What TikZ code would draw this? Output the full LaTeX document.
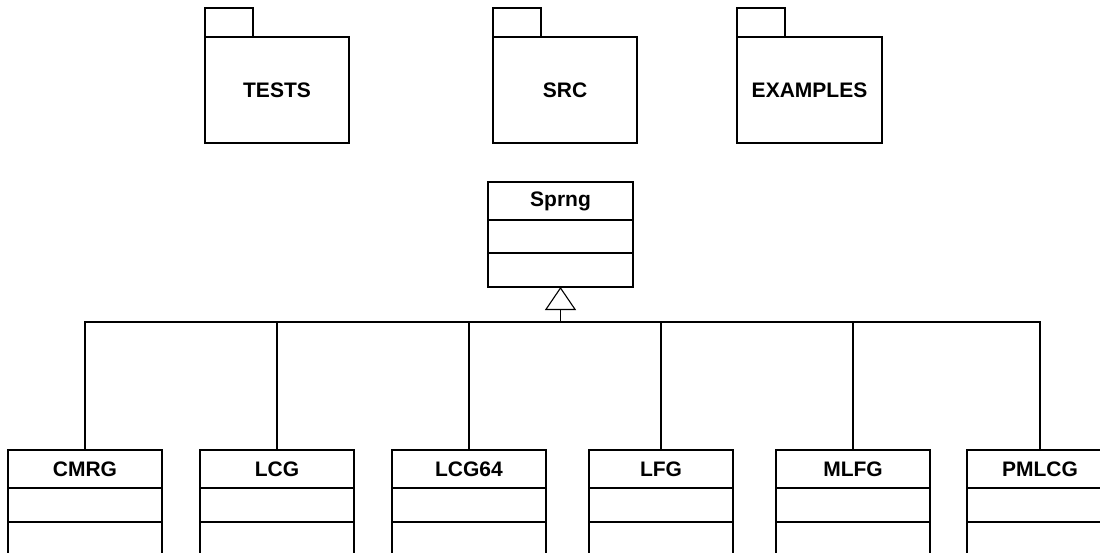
\documentclass[tikz,border=0pt]{standalone}
\usepackage{fontspec}
\setmainfont{Liberation Sans}
\usetikzlibrary{positioning,arrows.meta}
\tikzset{
  wire/.style={line width=1.1pt},
  umlfont/.style={font=\fontsize{21}{25}\selectfont\bfseries},
  pkg/.style={draw, line width=1.6pt, umlfont, minimum width=144, minimum height=106, inner sep=0pt, outer sep=0pt},
  pkgtab/.style={draw, line width=1.6pt, minimum width=48, minimum height=29, inner sep=0pt, outer sep=0pt},
  classhead/.style={draw, line width=1.6pt, fill=white, umlfont, minimum width=154, minimum height=38, inner sep=0pt, outer sep=0pt},
  classpart/.style={draw, line width=1.6pt, fill=white, minimum width=154, minimum height=34, inner sep=0pt, outer sep=0pt},
  inherit/.style={wire, -{Triangle[open, length=23pt, width=31pt]}}
}
\begin{document}
\begin{tikzpicture}[x=1pt,y=-1pt]
  \useasboundingbox (0,0) rectangle (1100,552);
  \clip (0,0) rectangle (1100,552);
  % packages
  \node[pkg] (tests) at (277,90) {TESTS};
  \node[pkgtab, anchor=south west] (teststab) at (tests.north west) {};
  \node[pkg] (src) at (565,90) {SRC};
  \node[pkgtab, anchor=south west] (srctab) at (src.north west) {};
  \node[pkg, minimum width=145] (examples) at (809.5,90) {EXAMPLES};
  \node[pkgtab, anchor=south west] (examplestab) at (examples.north west) {};
  % base class
  \node[classhead, minimum width=145] (sprng) at (560.5,201) {Sprng};
  \node[classpart, minimum width=145, minimum height=33, below=0pt of sprng] (sprngattr) {};
  \node[classpart, minimum width=145, below=0pt of sprngattr] (sprngop) {};
  % generators
  \node[classhead] (cmrg) at (85,469) {CMRG};
  \node[classpart, below=0pt of cmrg] (cmrgattr) {};
  \node[classpart, below=0pt of cmrgattr] (cmrgop) {};
  \node[classhead] (lcg) at (277,469) {LCG};
  \node[classpart, below=0pt of lcg] (lcgattr) {};
  \node[classpart, below=0pt of lcgattr] (lcgop) {};
  \node[classhead] (lcgsf) at (469,469) {LCG64};
  \node[classpart, below=0pt of lcgsf] (lcgsfattr) {};
  \node[classpart, below=0pt of lcgsfattr] (lcgsfop) {};
  \node[classhead, minimum width=144] (lfg) at (661,469) {LFG};
  \node[classpart, minimum width=144, below=0pt of lfg] (lfgattr) {};
  \node[classpart, minimum width=144, below=0pt of lfgattr] (lfgop) {};
  \node[classhead] (mlfg) at (853,469) {MLFG};
  \node[classpart, below=0pt of mlfg] (mlfgattr) {};
  \node[classpart, below=0pt of mlfgattr] (mlfgop) {};
  \node[classhead, minimum width=146] (pmlcg) at (1040,469) {PMLCG};
  \node[classpart, minimum width=146, below=0pt of pmlcg] (pmlcgattr) {};
  \node[classpart, minimum width=146, below=0pt of pmlcgattr] (pmlcgop) {};
  % inheritance
  \coordinate (bus) at (560.5,322);
  \draw[wire] (cmrg.north) |- (bus);
  \draw[wire] (lcg.north) |- (bus);
  \draw[wire] (lcgsf.north) |- (bus);
  \draw[wire] (lfg.north) |- (bus);
  \draw[wire] (mlfg.north) |- (bus);
  \draw[wire] (pmlcg.north) |- (bus);
  \draw[inherit] (bus) -- (sprngop.south);
\end{tikzpicture}
\end{document}
